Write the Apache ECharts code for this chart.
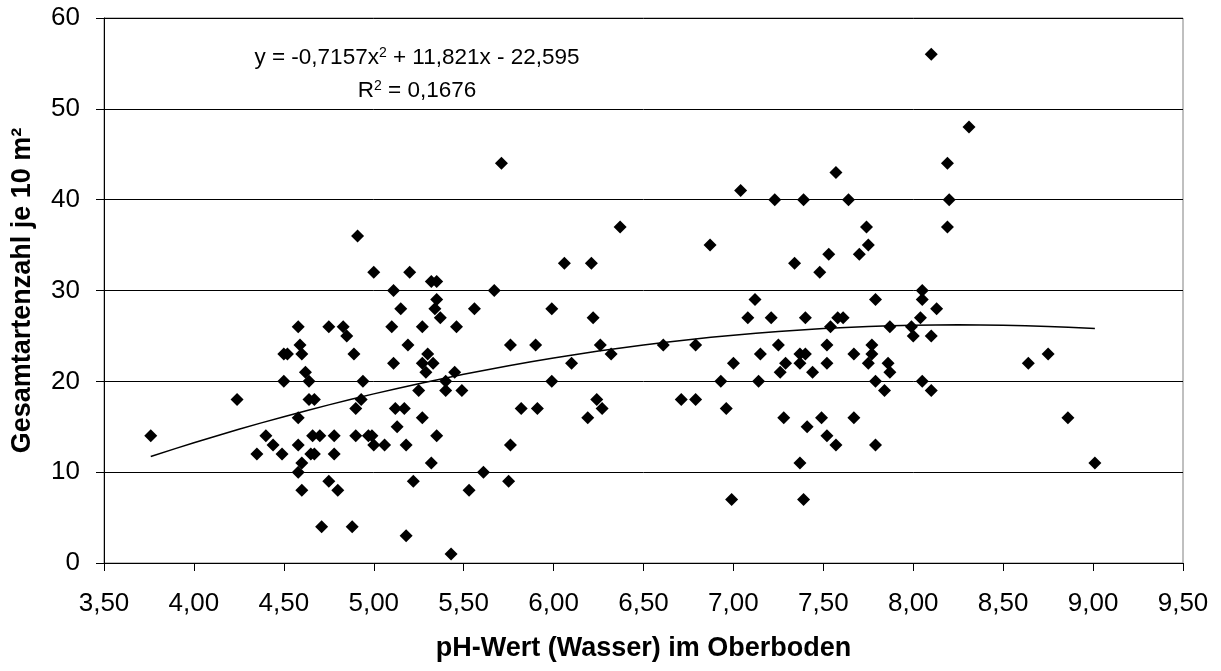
<!DOCTYPE html>
<html>
<head>
<meta charset="utf-8">
<script src="https://cdn.jsdelivr.net/npm/echarts@6/dist/echarts.min.js"></script>
<style>
html,body{margin:0;padding:0;background:#fff;}
#chart{width:1221px;height:671px;}
</style>
</head>
<body>
<div id="chart"></div>
<script>
// pH value (water) in topsoil
const phWerte = [
  3.76, 4.24, 4.35, 4.40, 4.44, 4.49, 4.50, 4.52, 4.50, 4.58,
  4.59, 4.60, 4.62, 4.64, 4.58, 4.58, 4.60, 4.58, 4.60, 4.64,
  4.67, 4.66, 4.70, 4.65, 4.67, 4.71, 4.75, 4.75, 4.78, 4.78,
  4.80, 4.83, 4.85, 4.88, 4.89, 4.90, 4.90, 4.91, 4.93, 4.94,
  4.97, 4.99,
  5.00, 5.00, 5.06, 5.11, 5.10, 5.11, 5.12, 5.17, 5.13, 5.15,
  5.18, 5.18, 5.19, 5.20, 5.22, 5.25, 5.27, 5.27, 5.27, 5.29,
  5.30, 5.32, 5.32, 5.33, 5.34, 5.35, 5.35, 5.35, 5.37, 5.40,
  5.40, 5.43, 5.45, 5.46, 5.49, 5.53, 5.56, 5.61, 5.67, 5.71,
  5.75, 5.76, 5.76, 5.82, 5.90, 5.91,
  5.99, 5.99, 6.06, 6.10, 6.19, 6.21, 6.22, 6.24, 6.26, 6.27,
  6.32, 6.37, 6.61, 6.71, 6.79, 6.79, 6.87, 6.93, 6.96, 6.99,
  7.00, 7.04, 7.08, 7.12, 7.15, 7.14, 7.21, 7.23, 7.25, 7.26,
  7.28, 7.29, 7.34, 7.37, 7.37, 7.40, 7.40, 7.39, 7.44, 7.37,
  7.41, 7.39, 7.48, 7.49, 7.52, 7.57, 7.53, 7.54, 7.52, 7.52,
  7.57, 7.58, 7.61, 7.64, 7.67, 7.67, 7.70, 7.74, 7.75, 7.75,
  7.77, 7.77, 7.79, 7.79, 7.79, 7.84, 7.86, 7.87, 7.87,
  7.99, 8.00, 8.04, 8.05, 8.05, 8.05, 8.10, 8.10, 8.13, 8.10,
  8.31, 8.19, 8.20, 8.19, 8.64, 8.75, 8.86, 9.01
];
// total number of species per 10 m²
const artenzahl = [
  14, 18, 12, 14, 13, 12, 23, 23, 20, 26,
  24, 23, 21, 20, 16, 13, 11, 10, 8, 18,
  18, 14, 14, 12, 12, 4, 26, 9, 14, 12,
  8, 26, 25, 4, 23, 17, 14, 36, 18, 20,
  14, 14,
  32, 13, 13, 30, 26, 22, 17, 17, 15, 28,
  13, 3, 24, 32, 9, 19, 26, 22, 16, 21,
  23, 31, 11, 22, 28, 31, 29, 14, 27, 20,
  19, 1, 21, 26, 19, 8, 28, 10, 30, 44,
  9, 24, 13, 17, 24, 17,
  28, 20, 33, 22, 16, 33, 27, 18, 24, 17,
  23, 37, 24, 18, 24, 18, 35, 20, 17, 7,
  22, 41, 27, 29, 23, 20, 27, 40, 24, 21,
  16, 22, 33, 22, 23, 23, 27, 40, 21, 11,
  15, 7, 32, 16, 14, 13, 34, 26, 24, 22,
  43, 27, 27, 40, 23, 16, 34, 37, 35, 22,
  24, 23, 20, 13, 29, 19, 22, 21, 26,
  26, 25, 27, 30, 29, 20, 25, 19, 28, 56,
  48, 44, 40, 37, 22, 23, 16, 11
];
// polynomial trend line
const trendX = [3.76, 4.00, 4.25, 4.50, 4.75, 5.00, 5.25, 5.50, 5.75, 6.00, 6.25, 6.50,
                6.75, 7.00, 7.25, 7.50, 7.75, 8.00, 8.25, 8.50, 8.75, 9.01];
const trendY = [11.73, 13.24, 14.72, 16.11, 17.41, 18.62, 19.74, 20.77, 21.71, 22.57, 23.33, 24.01,
                24.59, 25.08, 25.49, 25.81, 26.03, 26.17, 26.22, 26.17, 26.04, 25.81];
// tick labels
const xTickLabels = ['3,50', '4,00', '4,50', '5,00', '5,50', '6,00', '6,50', '7,00', '7,50', '8,00', '8,50', '9,00', '9,50'];
const yTickLabels = ['0', '10', '20', '30', '40', '50', '60'];
// texts
const xTitle = 'pH-Wert (Wasser) im Oberboden';
const yTitle = 'Gesamtartenzahl je 10 m²';
const eqLine1 = ['y = -0,7157x', '2', ' + 11,821x - 22,595'];
const eqLine2 = ['R', '2', ' = 0,1676'];

const FONT = '"Liberation Sans", Arial, sans-serif';

const scatterData = phWerte.map((x, i) => [x, artenzahl[i]]);
const trendData = trendX.map((x, i) => [x, trendY[i]]);

const chart = echarts.init(document.getElementById('chart'), null, {renderer: 'canvas'});

const richStyle = {
  a: {fontSize: 22.5, fontFamily: FONT, fill: '#000'},
  s: {fontSize: 14, fontFamily: FONT, fill: '#000', verticalAlign: 'top'}
};

chart.setOption({
  animation: false,
  backgroundColor: '#fff',
  grid: {
    left: 104, right: 38, top: 18, bottom: 108,
    show: true, borderColor: '#808080', borderWidth: 1, backgroundColor: 'transparent'
  },
  xAxis: {
    type: 'value',
    min: 3.5, max: 9.5, interval: 0.5,
    name: xTitle,
    nameLocation: 'middle',
    nameGap: 72,
    nameTextStyle: {fontFamily: FONT, fontSize: 27, fontWeight: 'bold', color: '#000'},
    axisLine: {show: true, onZero: false, lineStyle: {color: '#000', width: 1}},
    axisTick: {show: true, inside: false, length: 8, lineStyle: {color: '#000', width: 1}},
    axisLabel: {
      margin: 28, fontFamily: FONT, fontSize: 26, color: '#000',
      showMinLabel: true, showMaxLabel: true,
      formatter: v => xTickLabels[Math.round((v - 3.5) / 0.5)]
    },
    splitLine: {show: false}
  },
  yAxis: {
    type: 'value',
    min: 0, max: 60, interval: 10,
    name: yTitle,
    nameLocation: 'middle',
    nameGap: 68,
    nameRotate: 90,
    nameTextStyle: {fontFamily: FONT, fontSize: 27, fontWeight: 'bold', color: '#000'},
    axisLine: {show: true, lineStyle: {color: '#000', width: 1}},
    axisTick: {show: true, inside: false, length: 8, lineStyle: {color: '#000', width: 1}},
    axisLabel: {
      margin: 24, fontFamily: FONT, fontSize: 26, color: '#000',
      formatter: v => yTickLabels[Math.round(v / 10)]
    },
    splitLine: {show: true, lineStyle: {color: '#000', width: 1, type: 'solid'}}
  },
  graphic: [
    {
      type: 'text', x: 417, y: 58, silent: true,
      style: {
        text: '{a|' + eqLine1[0] + '}{s|' + eqLine1[1] + '}{a|' + eqLine1[2] + '}',
        rich: richStyle, align: 'center', verticalAlign: 'middle', fill: '#000'
      }
    },
    {
      type: 'text', x: 417, y: 91, silent: true,
      style: {
        text: '{a|' + eqLine2[0] + '}{s|' + eqLine2[1] + '}{a|' + eqLine2[2] + '}',
        rich: richStyle, align: 'center', verticalAlign: 'middle', fill: '#000'
      }
    }
  ],
  series: [
    {
      type: 'line',
      data: trendData,
      smooth: 0.3,
      showSymbol: false,
      symbol: 'none',
      lineStyle: {color: '#000', width: 1.5},
      z: 3,
      silent: true
    },
    {
      type: 'scatter',
      data: scatterData,
      symbol: 'diamond',
      symbolSize: 13,
      itemStyle: {color: '#000', opacity: 1, borderWidth: 0},
      z: 4
    }
  ]
});
</script>
</body>
</html>
